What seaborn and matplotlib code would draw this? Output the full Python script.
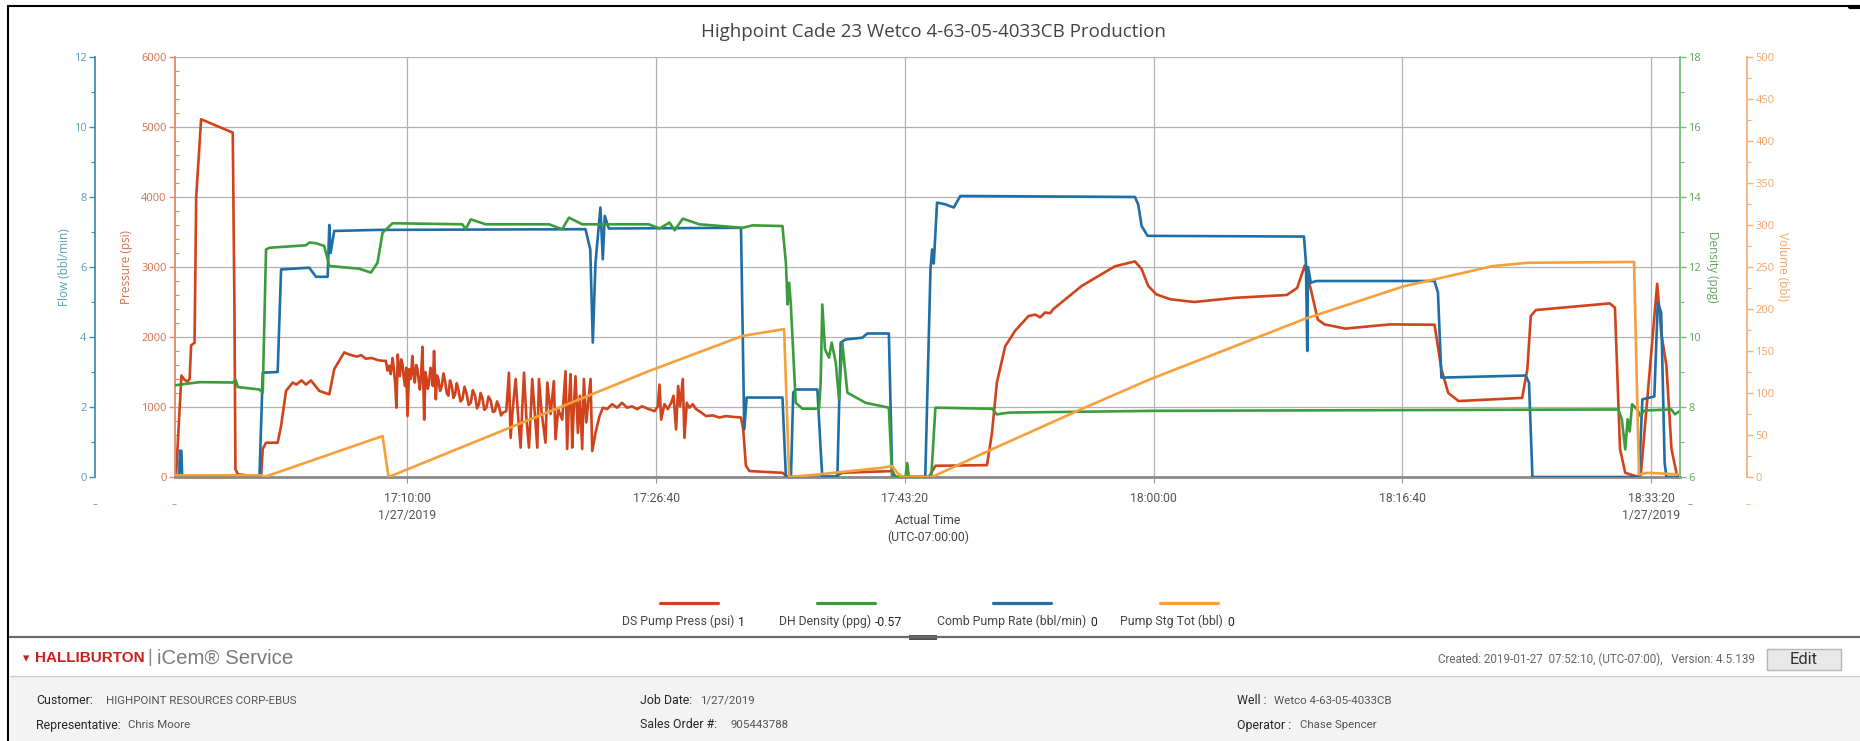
import matplotlib
matplotlib.use("Agg")
import numpy as np
import pandas as pd
import matplotlib.pyplot as plt
import seaborn as sns
from matplotlib import font_manager
from matplotlib.lines import Line2D
from matplotlib.patches import Rectangle
from matplotlib.ticker import MultipleLocator

# ---------------- data (minutes after 17:00:00, 1/27/2019) ----------------
press_min = [-5.58, -5.50, -5.15, -4.95, -4.75, -4.60, -4.50, -4.27, -4.16, -3.83, -1.71, -1.60, -1.53, -1.37,
             0.19, 0.30, 0.52, 1.30, 1.53, 1.86, 2.31, 2.55, 2.90, 3.20, 3.53, 4.09, 4.76, 5.09, 5.76, 6.10,
             6.60, 6.90, 7.21, 7.60, 8.00, 8.33,
             8.55, 8.66, 8.77, 8.88, 9.00, 9.08, 9.17, 9.26, 9.35, 9.42, 9.49, 9.58, 9.67, 9.75, 9.84, 9.92,
             10.00, 10.11, 10.22, 10.33, 10.41, 10.49, 10.58, 10.67, 10.75, 10.83, 10.92,
             11.00, 11.12, 11.20, 11.27, 11.36, 11.45, 11.54, 11.63, 11.70, 11.78, 11.90, 11.98, 12.07, 12.18,
             12.30, 12.41, 12.52, 12.63, 12.74, 12.85, 12.97, 13.08, 13.19, 13.30, 13.41, 13.55,
             13.68, 13.82, 13.95, 14.10, 14.24, 14.38, 14.53, 14.66, 14.79, 14.90, 15.02, 15.15, 15.29, 15.43,
             15.58, 15.72, 15.86, 16.00, 16.13, 16.27, 16.40,
             16.62, 16.80, 16.91, 17.07, 17.25, 17.43, 17.58, 17.69, 17.81, 17.96, 18.14, 18.27, 18.36, 18.54,
             18.70, 18.81, 18.99, 19.25, 19.37, 19.59, 19.81, 19.92, 20.10, 20.37, 20.59, 20.70, 20.82, 20.93,
             21.04, 21.15, 21.26, 21.42, 21.55, 21.71, 21.82, 21.98, 22.11, 22.27, 22.38, 22.60, 22.87, 23.10,
             23.38, 23.71, 24.05, 24.38, 24.72, 25.05, 25.39, 25.72, 26.17,
             26.56, 26.78, 26.89, 27.00, 27.22, 27.45, 27.67, 27.83, 28.00, 28.14, 28.27, 28.45, 28.56, 28.72,
             28.89, 29.12, 29.34, 29.56, 30.01, 30.45, 30.90, 31.35, 31.79, 32.35, 32.50, 32.68, 32.91, 35.13,
             35.47, 38.70, 39.14, 42.48, 42.70, 44.94, 45.38, 48.84, 49.17, 49.50, 50.06, 50.73, 51.62, 52.07,
             52.40, 52.73, 53.07, 53.29, 55.19, 57.41, 58.75, 59.20, 59.64,
             60.18, 61.10, 62.72, 65.48, 68.93, 69.62, 70.13, 70.54, 71.00, 71.46, 72.85, 75.84, 78.83, 79.29,
             79.75, 80.44, 82.74, 84.70, 85.05, 85.28, 85.62, 90.57, 90.92, 91.26, 91.61, 92.41, 92.64, 93.75,
             94.02, 94.37, 94.71, 95.06, 95.25]
press_psi = [0, 60, 1450, 1390, 1360, 1400, 1880, 1920, 4000, 5110, 4920, 2500, 110, 40,
             0, 400, 490, 490, 730, 1230, 1350, 1320, 1380, 1320, 1380, 1230, 1180, 1540, 1780, 1750,
             1720, 1740, 1690, 1700, 1670, 1660,
             1660, 1520, 1590, 1470, 1700, 1560, 1350, 990, 1750, 1520, 1440, 1680, 1610, 1420, 1300, 1560,
             870, 1540, 1400, 1730, 1480, 1350, 1600, 1540, 1380, 1250, 1480,
             1860, 820, 1500, 1420, 1260, 1350, 1560, 1490, 1300, 1800, 1110, 1450, 1400, 1230,
             1300, 1480, 1370, 1200, 1160, 1380, 1300, 1130, 1180, 1340, 1250, 1080,
             1110, 1290, 1200, 1030, 1060, 1240, 1160, 980, 1040, 1200, 1130, 960, 990, 1150,
             1090, 930, 940, 1080, 1010, 880, 920,
             940, 1490, 560, 1010, 1400, 820, 420, 970, 1490, 870, 420, 940, 1400, 870,
             420, 1400, 920, 490, 1350, 900, 1370, 540, 970, 820, 1510, 400, 1060, 1470,
             420, 1010, 1440, 630, 1160, 400, 1400, 780, 1060, 1400, 370, 630, 870, 990,
             970, 1040, 990, 1060, 990, 1010, 970, 1010, 970,
             940, 1010, 1320, 820, 1040, 970, 1060, 1160, 680, 1300, 1010, 1400, 560, 1060,
             990, 1040, 970, 940, 870, 880, 850, 870, 860, 850, 680, 160, 85, 60,
             0, 10, 60, 85, 0, 0, 160, 170, 630, 1350, 1870, 2090, 2300, 2320,
             2280, 2350, 2340, 2400, 2730, 3010, 3080, 2970, 2730,
             2610, 2540, 2500, 2560, 2600, 2700, 3020, 2680, 2250, 2180, 2120, 2180, 2175, 1540,
             1200, 1085, 1110, 1130, 1540, 2300, 2385, 2480, 2420, 400, 60, 5, 0, 2760,
             2060, 1590, 400, 40, 20]

dens_min = [-5.58, -3.94, -1.71, -1.50, -1.37, 0.08, 0.30, 0.52, 0.74, 3.20, 3.42, 3.87, 4.42, 4.76, 6.77,
            7.55, 7.99, 8.33, 9.00, 13.68, 13.90, 14.24, 15.24, 19.48, 20.37, 20.82, 21.71, 26.17, 26.89,
            27.56, 27.90, 28.45, 29.56, 32.46, 33.13, 35.13, 35.36, 35.47, 35.58, 35.69, 36.02, 36.47, 37.58,
            37.69, 37.80, 37.98, 38.25, 38.43, 38.70, 38.92, 39.14, 39.48, 40.70, 42.26, 42.48, 43.38, 43.49,
            43.60, 45.10, 45.38, 49.17, 49.50, 50.30, 60.00, 91.15, 91.38, 91.61, 91.77, 91.91, 92.07, 92.41,
            92.64, 92.87, 94.70, 94.94, 95.25]
dens_ppg = [8.62, 8.71, 8.70, 8.76, 8.57, 8.50, 8.41, 12.50, 12.55, 12.62, 12.70, 12.68, 12.60, 12.03, 11.95,
            11.84, 12.12, 12.98, 13.25, 13.22, 13.08, 13.36, 13.22, 13.22, 13.08, 13.41, 13.22, 13.22, 13.10,
            13.27, 13.05, 13.38, 13.22, 13.12, 13.19, 13.17, 12.12, 10.93, 11.55, 10.93, 8.12, 7.95, 7.95,
            8.70, 10.93, 9.65, 9.41, 9.84, 9.27, 8.22, 9.84, 8.41, 8.12, 7.98, 6.00, 6.00, 6.40,
            6.00, 6.00, 7.98, 7.95, 7.79, 7.84, 7.89, 7.93, 7.65, 6.79, 7.65, 7.30, 8.08, 7.93,
            7.74, 7.90, 7.93, 7.79, 7.88]

rate_min = [-5.58, -5.30, -5.25, -5.15, -5.10, 0.08, 0.30, 1.30, 1.53, 3.42, 3.87, 4.65, 4.76, 4.85, 5.09,
            8.00, 21.93, 22.25, 22.42, 22.60, 22.93, 23.09, 23.22, 23.49, 32.35, 32.57, 32.73, 35.13, 35.36,
            35.70, 35.85, 36.02, 37.47, 37.69, 37.80, 38.81, 39.03, 39.36, 40.48, 40.81, 42.26, 42.48, 42.70,
            44.70, 45.05, 45.16, 45.27, 45.49, 46.05, 46.61, 47.05, 58.75, 58.97, 59.20, 59.60, 70.08, 70.21,
            70.30, 70.35, 70.54, 70.90, 78.83, 79.06, 79.29, 84.93, 85.16, 85.39, 92.53, 92.76, 93.56, 93.79,
            94.02, 94.25, 94.37, 95.25]
rate_bpm = [0, 0, 0.75, 0.75, 0, 0, 2.98, 3.00, 5.93, 5.98, 5.72, 5.72, 7.20, 6.40, 7.03,
            7.06, 7.08, 6.50, 3.84, 6.12, 7.70, 6.22, 7.46, 7.10, 7.12, 1.36, 2.27, 2.27, 0,
            0, 2.41, 2.50, 2.50, 0.79, 0, 0, 3.84, 3.93, 3.98, 4.10, 4.10, 0.12, 0,
            0, 5.93, 6.50, 6.10, 7.84, 7.79, 7.70, 8.03, 8.00, 7.79, 7.17, 6.89, 6.87, 6.12,
            3.60, 6.00, 5.55, 5.60, 5.60, 5.27, 2.84, 2.90, 2.70, 0, 0, 2.22, 2.30, 4.98,
            4.70, 0.41, 0, 0]

vol_min = [-5.58, 0.19, 0.41, 8.33, 8.73, 26.17, 32.46, 35.24, 35.58, 37.50, 41.82, 42.48, 42.82, 43.15,
           45.16, 49.17, 55.19, 59.72, 70.10, 76.76, 80.50, 82.70, 85.05, 92.20, 92.53, 93.10, 95.25]
vol_bbl = [2, 2, 0, 48.8, 0, 126, 168, 176, 0, 3, 11, 13, 5, 0,
           0, 33, 81, 116, 188, 227, 242, 251, 255, 256, 3, 5, 3]

tick_min = [10, 26 + 40 / 60, 43 + 20 / 60, 60, 76 + 40 / 60, 93 + 20 / 60]
tick_labels = ["17:10:00\n1/27/2019", "17:26:40", "17:43:20", "18:00:00", "18:16:40", "18:33:20\n1/27/2019"]
x_range_min = [-5.58, 95.28]

title = "Highpoint Cade 23 Wetco 4-63-05-4033CB Production"
legend_labels = ["DS Pump Press (psi)", "DH Density (ppg)", "Comb Pump Rate (bbl/min)", "Pump Stg Tot (bbl)"]
legend_values = ["1", "-0.57", "0", "0"]

# ---------------- style ----------------
sns.set_theme(style="white")
avail = {f.name for f in font_manager.fontManager.ttflist}
NARROW = "Liberation Sans Narrow" if "Liberation Sans Narrow" in avail else "Roboto"
NFAM = [NARROW, "DejaVu Sans"]
plt.rcParams["font.family"] = ["Open Sans", "DejaVu Sans"]

RED, GREEN, BLUE, ORANGE = "#d0431c", "#3c9c3c", "#1f6ea6", "#f7a03a"
W, H = 1860, 741
base = pd.Timestamp("2019-01-27 17:00:00")
to_t = lambda mins: base + pd.to_timedelta(np.asarray(mins, dtype=float), unit="m")

fig = plt.figure(figsize=(W / 100, H / 100), dpi=100)
renderer = fig.canvas.get_renderer()
fx = lambda x: x / W
fy = lambda y: 1 - y / H


def text_w(t):
    return t.get_window_extent(renderer).width


def fit(t, target):
    for _ in range(3):
        t.set_fontsize(t.get_fontsize() * target / text_w(t))
    return t


def fitted_size(s, target, **kw):
    p = fig.text(0, 0, s, **kw)
    fit(p, target)
    size = p.get_fontsize()
    p.remove()
    return size


ax = fig.add_axes([fx(175), fy(477), (1680 - 175) / W, (477 - 57) / H])
ax_flow = ax.twinx()
ax_dens = ax.twinx()
ax_vol = ax.twinx()

df_p = pd.DataFrame({"t": to_t(press_min), "v": press_psi})
df_d = pd.DataFrame({"t": to_t(dens_min), "v": dens_ppg})
df_r = pd.DataFrame({"t": to_t(rate_min), "v": rate_bpm})
df_v = pd.DataFrame({"t": to_t(vol_min), "v": vol_bbl})

kw = dict(x="t", y="v", estimator=None, sort=False, linewidth=1.9)
sns.lineplot(data=df_p, ax=ax, color=RED, **kw)
sns.lineplot(data=df_d, ax=ax_dens, color=GREEN, **kw)
sns.lineplot(data=df_r, ax=ax_flow, color=BLUE, **kw)
sns.lineplot(data=df_v, ax=ax_vol, color=ORANGE, **kw)

ax.set_xlim(to_t(x_range_min))
ax.set_ylim(0, 6000)
ax_flow.set_ylim(0, 12)
ax_dens.set_ylim(6, 18)
ax_vol.set_ylim(0, 500)

# host axis (pressure) + x axis
for s in ["top", "right"]:
    ax.spines[s].set_visible(False)
ax.spines["bottom"].set_color("#8a8a8a")
ax.spines["bottom"].set_linewidth(2.0)
ax.spines["left"].set_color("#e08a6c")
ax.spines["left"].set_linewidth(1.3)
xsize = fitted_size("17:26:40", 47, family=NFAM, size=10)
ax.set_xticks(to_t(tick_min))
ax.set_xticklabels(tick_labels, family=NFAM, size=xsize, color="#555555", linespacing=1.35)
ax.tick_params(axis="x", which="major", bottom=True, length=4, width=0.8, color="#999999", pad=7)
ax.yaxis.set_major_locator(MultipleLocator(1000))
ax.yaxis.set_minor_locator(MultipleLocator(200))
ax.tick_params(axis="y", which="major", left=True, length=4, width=1, color="#e08a6c", labelcolor="#d4704e",
               labelsize=8, pad=2)
ax.tick_params(axis="y", which="minor", left=True, length=3, width=0.8, color="#e08a6c", direction="in")
ax.grid(True, which="major", color="#b2b2b2", linewidth=0.9)
ax.get_ygridlines()[-1].set_color("#e2e2e2")
ax.set_xlabel("")
ax.set_ylabel("Pressure (psi)", color="#d4704e", size=8.5)
ax.yaxis.set_label_coords((133 - 175) / 1505, 0.5)


def side_axis(a, side, spine_col, lab_col, outward, major, minor, label, label_x, rot):
    for s in a.spines.values():
        s.set_visible(False)
    sp = a.spines[side]
    sp.set_visible(True)
    sp.set_color(spine_col)
    sp.set_linewidth(1.3)
    sp.set_position(("outward", outward))
    a.yaxis.set_ticks_position(side)
    a.yaxis.set_label_position(side)
    a.yaxis.set_major_locator(MultipleLocator(major))
    a.yaxis.set_minor_locator(MultipleLocator(minor))
    a.tick_params(axis="y", which="major", length=4, width=1, color=spine_col, labelcolor=lab_col,
                  labelsize=8, pad=2)
    a.tick_params(axis="y", which="minor", length=3, width=0.8, color=spine_col)
    a.tick_params(axis="x", bottom=False, labelbottom=False)
    a.grid(False)
    a.set_xlabel("")
    a.set_ylabel(label, color=lab_col, size=8.5, rotation=rot, va="center")
    a.yaxis.set_label_coords(label_x, 0.5)


side_axis(ax_flow, "left", "#3f93ab", "#5a9db3", 80 * 0.72, 2, 1, "Flow (bbl/min)", (65 - 175) / 1505, 90)
side_axis(ax_dens, "right", "#77bb77", "#5fa55f", 0, 2, 1, "Density (ppg)", (1712 - 175) / 1505, 270)
side_axis(ax_vol, "right", "#f4b27a", "#f0a46a", 67 * 0.72, 50, 25, "Volume (bbl)", (1782 - 175) / 1505, 270)

# ---------------- figure texts ----------------
tt = fig.text(fx(933), fy(32), title, ha="center", va="center", size=12, color="#444444")
fit(tt, 466)
fig.text(fx(928), fy(529), "Actual Time\n(UTC-07:00:00)", ha="center", va="center", size=xsize,
         family=NFAM, color="#444444", linespacing=1.35)
for xd, col in [(95, "#5a9db3"), (174, "#d4704e"), (1690, "#777777"), (1748, "#f0a46a")]:
    fig.text(fx(xd), fy(505), "–", ha="center", va="center", size=7, color=col)

# legend
line_cx = [689, 846, 1022, 1189]
label_start = [622, 779, 937, 1120]
lsize = fitted_size(legend_labels[2], 150, family=NFAM, size=10)
for cx, ls, lab, val, col in zip(line_cx, label_start, legend_labels, legend_values, [RED, GREEN, BLUE, ORANGE]):
    fig.add_artist(Line2D([fx(cx - 29), fx(cx + 29)], [fy(603), fy(603)], color=col, lw=2.3))
    t = fig.text(fx(ls), fy(621), lab, ha="left", va="center", size=lsize, family=NFAM, color="#444444")
    fig.text(fx(ls + text_w(t) + 4), fy(623), val, ha="left", va="center", size=lsize, family=NFAM,
             color="#222222")

# footer
fig.add_artist(Rectangle((fx(10), fy(741)), fx(1850), (741 - 677) / H, color="#f3f3f3", lw=0, zorder=0))
fig.add_artist(Line2D([fx(10), fx(1860)], [fy(637), fy(637)], color="#6a6a6a", lw=1.6))
fig.add_artist(Rectangle((fx(909), fy(639.5)), 28 / W, 5 / H, color="#555555", lw=0))
fig.add_artist(Line2D([fx(10), fx(1860)], [fy(676), fy(676)], color="#cfcfcf", lw=1.0))
fig.text(fx(23), fy(659), "▾", ha="left", va="center", size=9, color="#cc1f1f", family="DejaVu Sans")
hb = fig.text(fx(35), fy(658), "HALLIBURTON", ha="left", va="center", size=10, weight="bold", color="#cc1f1f",
              family=["Liberation Sans", "DejaVu Sans"])
fit(hb, 110)
fig.text(fx(147), fy(658), "|", ha="left", va="center", size=13, color="#888888",
         family=["Liberation Sans", "DejaVu Sans"])
ic = fig.text(fx(157), fy(658), "iCem® Service", ha="left", va="center", size=13, color="#7a7a7a",
              family=["Liberation Sans", "DejaVu Sans"])
fit(ic, 136)
cr = fig.text(fx(1755), fy(659), "Created: 2019-01-27  07:52:10, (UTC-07:00),   Version: 4.5.139", ha="right",
              va="center", size=8.5, family=NFAM, color="#666666")
fit(cr, 316)
fig.add_artist(Rectangle((fx(1767), fy(670)), 74 / W, 21 / H, facecolor="#e8e8e8", edgecolor="#b5b5b5", lw=1))
fig.text(fx(1804), fy(659.5), "Edit", ha="center", va="center", size=12, family=NFAM, color="#333333")

# info rows
info_key_x = [36, 36, 640, 640, 1237, 1237]
info_y = [701, 725, 701, 725, 701, 725]
info_keys = ["Customer:", "Representative:", "Job Date:", "Sales Order #:", "Well :", "Operator :"]
info_vals = ["HIGHPOINT RESOURCES CORP-EBUS", "Chris Moore", "1/27/2019", "905443788",
             "Wetco 4-63-05-4033CB", "Chase Spencer"]
info_val_x = [106, 128, 700, 730, 1268, 1300]
vsize = fitted_size(info_vals[0], 190, family=NFAM, size=10)
ksize = vsize * 1.08
for kx, yy, k, v, vx in zip(info_key_x, info_y, info_keys, info_vals, info_val_x):
    kt = fig.text(fx(kx), fy(yy), k, ha="left", va="center", size=ksize, family=NFAM, color="#262626")
    x_val = max(vx, kx + text_w(kt) + 7)
    fig.text(fx(x_val), fy(yy), v, ha="left", va="center", size=vsize, family=NFAM, color="#555555")

# outer frame
fig.add_artist(Line2D([fx(8), fx(1850)], [fy(6), fy(6)], color="black", lw=1.5))
fig.add_artist(Line2D([fx(1850), fx(1860)], [fy(7), fy(7)], color="black", lw=3))
fig.add_artist(Line2D([fx(8), fx(8)], [fy(6), fy(741)], color="black", lw=1.5))

fig.savefig("out.png", dpi=100)
